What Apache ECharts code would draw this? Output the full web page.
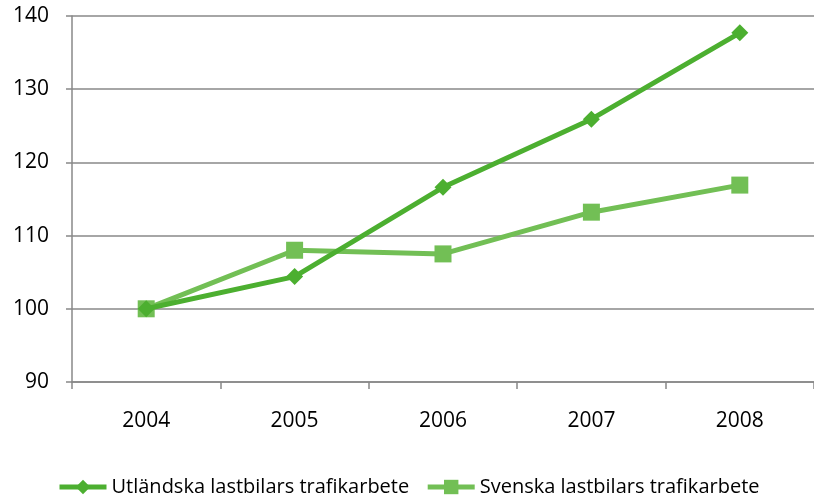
<!DOCTYPE html>
<html>
<head>
<meta charset="utf-8">
<script src="https://cdn.jsdelivr.net/npm/echarts@6/dist/echarts.min.js"></script>
<style>
  html, body { margin: 0; padding: 0; background: #fff; }
  #chart { width: 814px; height: 496px; }
</style>
</head>
<body>
<div id="chart"></div>
<script>
const years = ['2004', '2005', '2006', '2007', '2008']
const utlandska = [100, 104.4, 116.6, 125.9, 137.7]
const svenska = [100, 108.0, 107.5, 113.2, 116.9]

const darkGreen = '#4caf30'
const lightGreen = '#72bf55'
const font = 'Open Sans'

const chart = echarts.init(document.getElementById('chart'))

chart.setOption({
  animation: false,
  grid: { left: 72, width: 747, top: 16, height: 366 },
  legend: {
    top: 472,
    left: 52,
    itemWidth: 47,
    itemHeight: 18,
    itemGap: 16,
    lineStyle: { width: 5 },
    textStyle: { fontFamily: font, fontSize: 20, color: '#000' },
    data: ['Utländska lastbilars trafikarbete', 'Svenska lastbilars trafikarbete'],
  },
  xAxis: {
    type: 'category',
    data: years,
    boundaryGap: true,
    axisLine: { lineStyle: { color: '#888', width: 1.5 } },
    axisTick: { show: true, length: 7, lineStyle: { color: '#888', width: 1.5 } },
    axisLabel: { fontFamily: font, fontSize: 21, color: '#000', margin: 29 },
  },
  yAxis: {
    type: 'value',
    min: 90,
    max: 140,
    interval: 10,
    axisLine: { show: true, lineStyle: { color: '#888', width: 1.5 } },
    axisTick: { show: true, length: 6, lineStyle: { color: '#888', width: 1.5 } },
    splitLine: { lineStyle: { color: '#888', width: 1.5 } },
    axisLabel: { fontFamily: font, fontSize: 21, color: '#000', margin: 23, padding: [4, 0, 0, 0] },
  },
  series: [
    {
      name: 'Utländska lastbilars trafikarbete',
      type: 'line',
      data: utlandska,
      symbol: 'diamond',
      symbolSize: 17,
      lineStyle: { color: darkGreen, width: 5 },
      itemStyle: { color: darkGreen },
      z: 3,
    },
    {
      name: 'Svenska lastbilars trafikarbete',
      type: 'line',
      data: svenska,
      symbol: 'rect',
      symbolSize: 17,
      lineStyle: { color: lightGreen, width: 5 },
      itemStyle: { color: lightGreen },
      z: 2,
    },
  ],
})
</script>
</body>
</html>
